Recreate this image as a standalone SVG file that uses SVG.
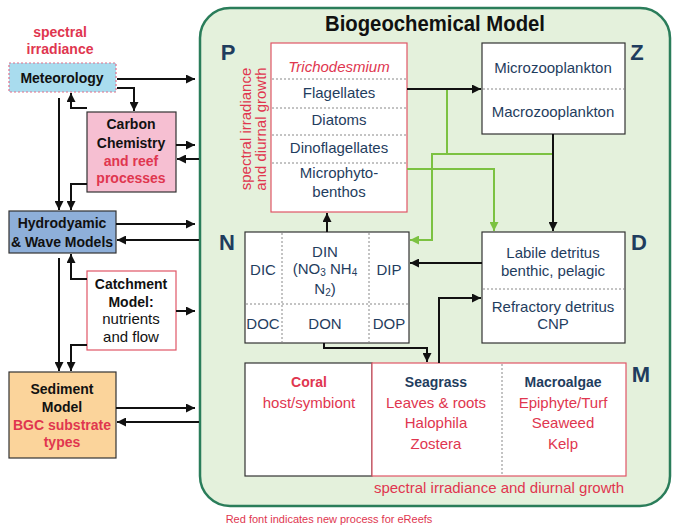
<svg xmlns="http://www.w3.org/2000/svg" width="680" height="530" viewBox="0 0 680 530">
<defs>
<marker id="ab" viewBox="0 0 10 10" refX="10" refY="5" markerUnits="userSpaceOnUse" markerWidth="9" markerHeight="9" orient="auto"><path d="M0,0 L10,5 L0,10 z" fill="#111"/></marker>
<marker id="ag" viewBox="0 0 10 10" refX="10" refY="5" markerUnits="userSpaceOnUse" markerWidth="9" markerHeight="9" orient="auto"><path d="M0,0 L10,5 L0,10 z" fill="#7cc242"/></marker>
<style>
text{font-family:"Liberation Sans",Arial,sans-serif;text-anchor:middle}
.b{font-weight:bold;font-size:14px;fill:#111}
.rb{font-weight:bold;font-size:14px;fill:#e0364f}
.n{font-size:15px;fill:#1f3d5e}
.r{font-size:15px;fill:#e0364f}
.nb{font-weight:bold;font-size:14px;fill:#1f3d5e}
.lab{font-weight:bold;font-size:22px;fill:#1f3d5e}
.dot{stroke:#888;stroke-width:1;stroke-dasharray:2,2;fill:none}
.c{fill:none;stroke:#111;stroke-width:2}
.g{fill:none;stroke:#7cc242;stroke-width:2}
</style>
</defs>
<rect width="680" height="530" fill="#fff"/>

<g id="bgc">
<rect x="200" y="8" width="470" height="498" rx="30" fill="#e4f1dc" stroke="#2a7d5a" stroke-width="2.5"/>
<text x="435" y="31" font-weight="bold" font-size="22" fill="#111" textLength="220" lengthAdjust="spacingAndGlyphs">Biogeochemical Model</text>
<text class="lab" x="228" y="60">P</text>
<text class="lab" x="637" y="60">Z</text>
<text class="lab" x="227" y="250">N</text>
<text class="lab" x="639" y="250">D</text>
<text class="lab" x="641" y="382">M</text>
<text class="r" x="499" y="493">spectral irradiance and diurnal growth</text>
</g>

<g id="spectral-note">
<text class="rb" x="60" y="37">spectral</text>
<text class="rb" x="60" y="54">irradiance</text>
</g>

<g id="meteorology">
<rect x="9" y="63" width="107" height="29" fill="#a9dcee" stroke="#e0708a" stroke-width="1.2" stroke-dasharray="2,2"/>
<text class="b" x="62" y="83">Meteorology</text>
</g>

<g id="carbon">
<rect x="87" y="112" width="89" height="80" fill="#f6bfd2" stroke="#333" stroke-width="1.2"/>
<text class="b" x="131" y="129">Carbon</text>
<text class="b" x="131" y="148">Chemistry</text>
<text class="rb" x="131" y="166">and reef</text>
<text class="rb" x="131" y="183">processes</text>
</g>

<g id="hydro">
<rect x="9" y="211" width="107" height="42" fill="#8eafd9" stroke="#333" stroke-width="1.2"/>
<text class="b" x="62" y="228" font-size="13.5">Hydrodyamic</text>
<text class="b" x="62" y="247">&amp; Wave Models</text>
</g>

<g id="catchment">
<rect x="87" y="271" width="89" height="79" fill="#fff" stroke="#e05566" stroke-width="1.2"/>
<text class="b" x="131" y="289">Catchment</text>
<text class="b" x="131" y="307">Model:</text>
<text x="131" y="324" font-size="15" fill="#111">nutrients</text>
<text x="131" y="342" font-size="15" fill="#111">and flow</text>
</g>

<g id="sediment">
<rect x="9" y="372" width="107" height="86" fill="#fbd49b" stroke="#333" stroke-width="1.2"/>
<text class="b" x="62" y="394">Sediment</text>
<text class="b" x="62" y="412">Model</text>
<text class="rb" x="62" y="430">BGC substrate</text>
<text class="rb" x="62" y="447">types</text>
</g>

<g id="phyto">
<rect x="271" y="43" width="136" height="169" fill="#fff" stroke="#e05566" stroke-width="1.2"/>
<path class="dot" d="M272,79 H406 M272,108 H406 M272,135 H406 M272,163 H406"/>
<text class="r" x="339" y="72" font-style="italic">Trichodesmium</text>
<text class="n" x="339" y="98">Flagellates</text>
<text class="n" x="339" y="125">Diatoms</text>
<text class="n" x="339" y="153">Dinoflagellates</text>
<text class="n" x="339" y="178">Microphyto-</text>
<text class="n" x="339" y="197">benthos</text>
<text class="r" transform="translate(251,129) rotate(-90)">spectral irradiance</text>
<text class="r" transform="translate(266,129) rotate(-90)">and diurnal growth</text>
</g>

<g id="zoo">
<rect x="482" y="43" width="143" height="91" fill="#fff" stroke="#333" stroke-width="1.2"/>
<path class="dot" d="M483,89 H624"/>
<text class="n" x="553" y="73">Microzooplankton</text>
<text class="n" x="553" y="117">Macrozooplankton</text>
</g>

<g id="nutrients">
<rect x="245" y="232" width="164" height="111" fill="#fff" stroke="#333" stroke-width="1.2"/>
<path class="dot" d="M282,233 V342 M369,233 V342 M246,304 H408"/>
<text class="n" x="263" y="275">DIC</text>
<text class="n" x="325" y="257">DIN</text>
<text class="n" x="325" y="274">(NO<tspan font-size="10" dy="2">3</tspan><tspan dy="-2"> NH</tspan><tspan font-size="10" dy="2">4</tspan></text>
<text class="n" x="325" y="294">N<tspan font-size="10" dy="2">2</tspan><tspan dy="-2">)</tspan></text>
<text class="n" x="389" y="275">DIP</text>
<text class="n" x="263" y="329">DOC</text>
<text class="n" x="325" y="329">DON</text>
<text class="n" x="389" y="329">DOP</text>
</g>

<g id="detritus">
<rect x="482" y="232" width="143" height="111" fill="#fff" stroke="#333" stroke-width="1.2"/>
<path class="dot" d="M483,289 H624"/>
<text class="n" x="553" y="258">Labile detritus</text>
<text class="n" x="553" y="276">benthic, pelagic</text>
<text class="n" x="553" y="312">Refractory detritus</text>
<text class="n" x="553" y="329">CNP</text>
</g>

<g id="macrophytes">
<rect x="245" y="363" width="127" height="113" fill="#fff" stroke="#333" stroke-width="1.2"/>
<rect x="372" y="363" width="254" height="113" fill="#fff" stroke="#e05566" stroke-width="1.2"/>
<path class="dot" d="M502,364 V475"/>
<text class="rb" x="309" y="387">Coral</text>
<text class="r" x="309" y="408">host/symbiont</text>
<text class="nb" x="436" y="387">Seagrass</text>
<text class="r" x="436" y="408">Leaves &amp; roots</text>
<text class="r" x="436" y="428">Halophila</text>
<text class="r" x="436" y="449">Zostera</text>
<text class="nb" x="563" y="387">Macroalgae</text>
<text class="r" x="563" y="408">Epiphyte/Turf</text>
<text class="r" x="563" y="428">Seaweed</text>
<text class="r" x="563" y="449">Kelp</text>
</g>

<g id="footnote">
<text x="329" y="523" font-size="11" fill="#e0364f">Red font indicates new process for eReefs</text>
</g>

<g id="connectors">
<path class="c" d="M117,79 H195" marker-end="url(#ab)"/>
<path class="c" d="M117,88 H134 V111" marker-end="url(#ab)"/>
<path class="c" d="M87,108 H71 V93" marker-end="url(#ab)"/>
<path class="c" d="M59,98 V210" marker-end="url(#ab)"/>
<path class="c" d="M87,184 H71 V210" marker-end="url(#ab)"/>
<path class="c" d="M176,145 H195" marker-end="url(#ab)"/>
<path class="c" d="M199,159 H177" marker-end="url(#ab)"/>
<path class="c" d="M116,224 H195" marker-end="url(#ab)"/>
<path class="c" d="M199,240 H117" marker-end="url(#ab)"/>
<path class="c" d="M59,258 V371" marker-end="url(#ab)"/>
<path class="c" d="M87,279 H71 V254" marker-end="url(#ab)"/>
<path class="c" d="M176,311 H195" marker-end="url(#ab)"/>
<path class="c" d="M87,345 H71 V371" marker-end="url(#ab)"/>
<path class="c" d="M116,408 H195" marker-end="url(#ab)"/>
<path class="c" d="M199,422 H117" marker-end="url(#ab)"/>

<path class="c" d="M407,89 H481" marker-end="url(#ab)"/>
<path class="g" d="M447,90 V154"/>
<path class="g" d="M553,154 H432 V240 H410" marker-end="url(#ag)"/>
<path class="g" d="M407,169 H494 V231" marker-end="url(#ag)"/>
<path class="c" d="M553,134 V231" marker-end="url(#ab)"/>
<path class="c" d="M327,232 V213" marker-end="url(#ab)"/>
<path class="c" d="M482,263 H410" marker-end="url(#ab)"/>
<path class="c" d="M324,343 V348 H427 V362" marker-end="url(#ab)"/>
<path class="c" d="M439,363 V298 H481" marker-end="url(#ab)"/>
</g>
</svg>
